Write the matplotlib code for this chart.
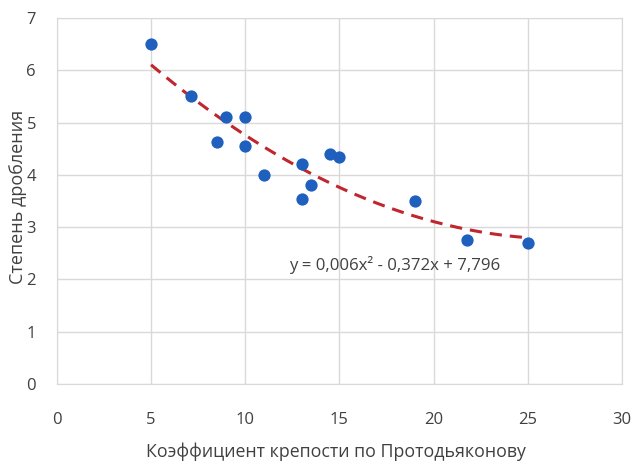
import numpy as np
import matplotlib
matplotlib.use("Agg")
import matplotlib.pyplot as plt

plt.rcParams['font.family'] = ['Open Sans', 'DejaVu Sans']

# Protodyakonov hardness coefficient vs. crushing ratio
hardness = [5, 7.1, 9, 10, 8.5, 10, 11, 13, 13, 13.5, 14.5, 15, 19, 21.8, 25]
crushing = [6.5, 5.5, 5.1, 5.1, 4.63, 4.55, 4.0, 4.2, 3.53, 3.8, 4.4, 4.35, 3.5, 2.75, 2.7]

x_ticks = [0, 5, 10, 15, 20, 25, 30]
y_ticks = [0, 1, 2, 3, 4, 5, 6, 7]
equation = "y = 0,006x² - 0,372x + 7,796"

fig = plt.figure(figsize=(6.32, 4.61), dpi=100)
ax = fig.add_axes([0.090, 0.167, 0.894, 0.794])

grid_col = '#d9d9d9'
text_col = '#404040'

# second-order polynomial trend
coef = np.polyfit(hardness, crushing, 2)
xs = np.linspace(min(hardness), max(hardness), 200)
ax.plot(xs, np.polyval(coef, xs), color='#c0262d', lw=2.2,
        linestyle=(0, (4, 2.6)), zorder=2)

ax.scatter(hardness, crushing, s=78, color='#1f60be', zorder=3, linewidths=0)

ax.text(12.35, 2.28, equation, fontsize=12.1, color=text_col, va='center', ha='left')

ax.set_xlim(0, 30)
ax.set_ylim(0, 7)
ax.set_xticks(x_ticks)
ax.set_yticks(y_ticks)
ax.grid(True, color=grid_col, lw=1)
ax.set_axisbelow(True)
for s in ax.spines.values():
    s.set_color(grid_col)
ax.tick_params(length=0, labelsize=12, labelcolor=text_col)
ax.tick_params(axis='x', pad=20)
ax.tick_params(axis='y', pad=15)

ax.set_xlabel("Коэффициент крепости по Протодьяконову", fontsize=12.8, color=text_col, va='center')
ax.xaxis.set_label_coords(0.494, -0.186)
ax.set_ylabel("Степень дробления", fontsize=13, color=text_col, va='center')
ax.yaxis.set_label_coords(-0.069, 0.51)

fig.savefig("out.png", dpi=100)
